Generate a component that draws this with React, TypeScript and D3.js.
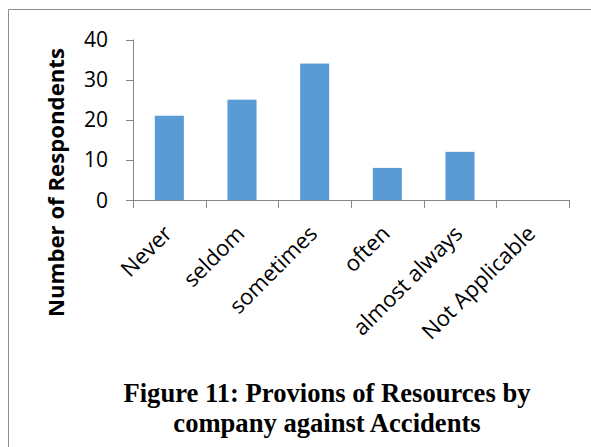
import React from "react";
import * as d3 from "d3";

const categories = ["Never", "seldom", "sometimes", "often", "almost always", "Not Applicable"];
const values = [21, 25, 34, 8, 12, 0];
const yTicks = [0, 10, 20, 30, 40];
const yTitle = "Number of Respondents";
const captionLines = ["Figure 11: Provions of Resources by", "company against Accidents"];

const W = 591;
const H = 447;
const x0 = 133;
const x1 = 569;
const yBase = 200;
const yTop = 39.5;

export default function App() {
  const x = d3
    .scaleBand<string>()
    .domain(categories)
    .range([x0, x1])
    .paddingInner(0.6)
    .paddingOuter(0.3);
  const y = d3.scaleLinear().domain([0, 40]).range([yBase, yTop]);
  const step = (x1 - x0) / categories.length;
  const axisColor = "#868686";
  const boundaries = d3.range(categories.length + 1).map((i) => x0 + i * step);

  return (
    <svg
      width={W}
      height={H}
      style={{ position: "absolute", left: 0, top: 0 }}
      xmlns="http://www.w3.org/2000/svg"
    >
      <rect x={0} y={0} width={W} height={H} fill="#fff" />
      {/* frame */}
      <path d={`M8.5,${H + 2} V9.5 H${W + 2}`} fill="none" stroke="#8c8c8c" strokeWidth={1} />

      {/* bars */}
      {categories.map((c, i) => (
        <rect
          key={c}
          x={x(c)}
          y={y(values[i])}
          width={x.bandwidth()}
          height={yBase - y(values[i])}
          fill="#5B9BD5"
        />
      ))}

      {/* y axis */}
      <line x1={x0 + 0.5} x2={x0 + 0.5} y1={y(40)} y2={yBase} stroke={axisColor} />
      {yTicks.map((t) => (
        <g key={t}>
          <line x1={x0 - 7} x2={x0} y1={Math.round(y(t)) + 0.5} y2={Math.round(y(t)) + 0.5} stroke={axisColor} />
          <text
            x={108}
            y={y(t)}
            dy="0.36em"
            textAnchor="end"
            fontFamily="'Open Sans', sans-serif"
            fontSize={21}
            fill="#000"
          >
            {t}
          </text>
        </g>
      ))}

      {/* x axis */}
      <line x1={x0} x2={x1 + 0.5} y1={yBase + 0.5} y2={yBase + 0.5} stroke={axisColor} />
      {boundaries.map((b, i) => (
        <line
          key={i}
          x1={Math.round(b) + 0.5}
          x2={Math.round(b) + 0.5}
          y1={yBase}
          y2={yBase + 8}
          stroke={axisColor}
        />
      ))}
      {categories.map((c) => {
        const cx = (x(c) as number) + x.bandwidth() / 2 + 4;
        const cy = 235;
        return (
          <text
            key={c}
            transform={`translate(${cx},${cy}) rotate(-45)`}
            textAnchor="end"
            fontFamily="'Open Sans', sans-serif"
            fontSize={22}
            fill="#000"
          >
            {c}
          </text>
        );
      })}

      {/* y title */}
      <text
        transform={`translate(64,182.5) rotate(-90)`}
        textAnchor="middle"
        fontFamily="'Open Sans', sans-serif"
        fontWeight="bold"
        fontSize={21.5}
        textLength={269}
        lengthAdjust="spacingAndGlyphs"
        fill="#000"
      >
        {yTitle}
      </text>

      {/* caption */}
      {captionLines.map((l, i) => (
        <text
          key={i}
          x={327}
          y={402 + i * 30}
          textAnchor="middle"
          fontFamily="'Liberation Serif', 'Times New Roman', serif"
          fontWeight="bold"
          fontSize={26.6}
          fill="#000"
        >
          {l}
        </text>
      ))}
    </svg>
  );
}
